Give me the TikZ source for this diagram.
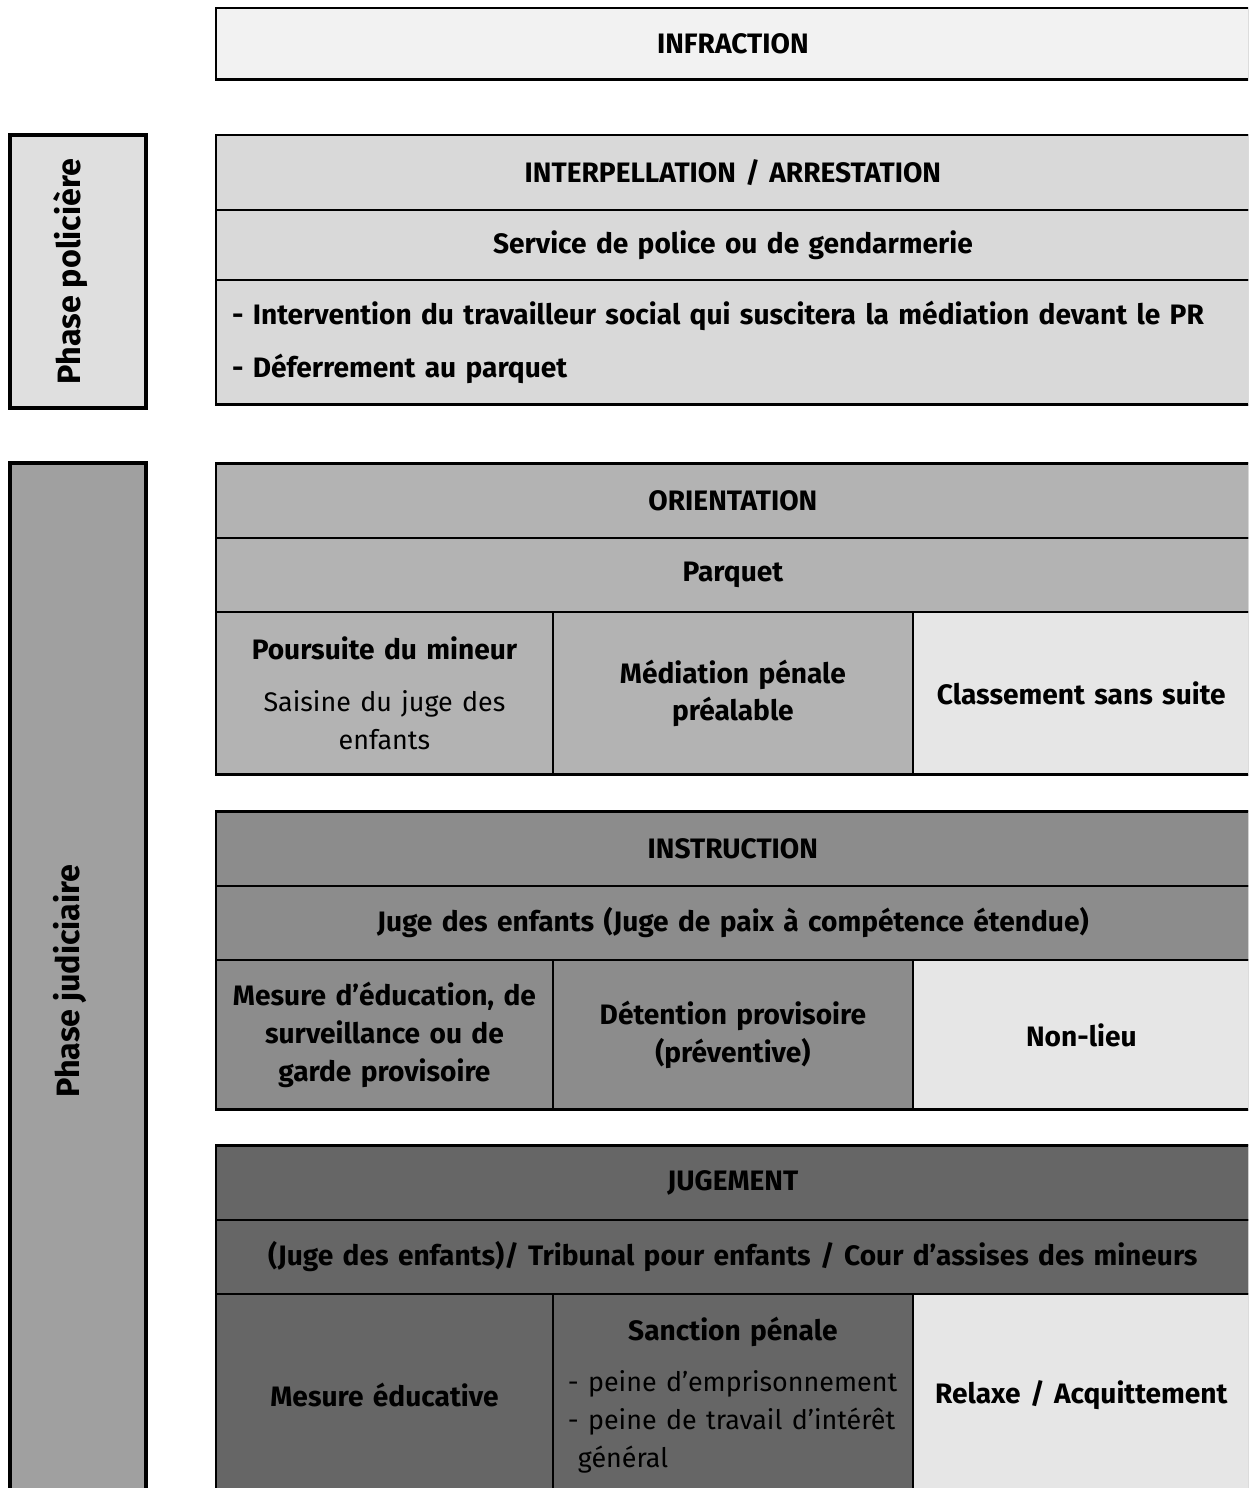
\documentclass[tikz,border=0pt]{standalone}
\usepackage{fontspec}
\setmainfont{Fira Sans}
\usetikzlibrary{positioning}

\definecolor{infra}{HTML}{F2F2F2}
\definecolor{policeside}{HTML}{DFDFDF}
\definecolor{police}{HTML}{D9D9D9}
\definecolor{judside}{HTML}{A0A0A0}
\definecolor{orient}{HTML}{B3B3B3}
\definecolor{instr}{HTML}{8C8C8C}
\definecolor{jug}{HTML}{666666}
\definecolor{light}{HTML}{E6E6E6}

\newcommand{\plain}{\fontsize{15.3}{21.5}\selectfont\mdseries}

\begin{document}
\begin{tikzpicture}[
  x=0.02cm, y=-0.02cm,
  every node/.style={font=\fontsize{16}{21.5}\selectfont\bfseries},
  cell/.style={draw, line width=1.1pt, inner sep=0pt, outer sep=0pt, anchor=north west, align=center},
  wide/.style={minimum width=20.68cm, text width=20cm},
  sidecol/.style={minimum width=6.74cm, text width=6.4cm},
  midcol/.style={minimum width=7.2cm, text width=6.6cm},
  frame/.style={draw, line width=1.7pt},
  phase/.style={draw, line width=2.2pt, rotate=90, inner sep=0pt, align=center,
    font=\fontsize{18.4}{22}\selectfont\bfseries, text depth=13pt}
]
  \useasboundingbox (0,0) rectangle (1248,1488);
  \clip (0,0) rectangle (1248,1488);

  % Infraction
  \node[cell, wide, fill=infra, minimum height=1.44cm, line width=1.7pt] (infraction) at (216,8) {INFRACTION};

  % Phase policiere
  \node[phase, fill=policeside, minimum width=5.46cm, minimum height=2.72cm] (policiere) at (78,271.5) {Phase policière};
  \node[cell, wide, fill=police, minimum height=1.5cm] (interp) at (216,135) {INTERPELLATION / ARRESTATION};
  \node[cell, wide, fill=police, minimum height=1.4cm] (service) at (interp.south west) {Service de police ou de gendarmerie};
  \node[cell, fill=police, minimum width=20.68cm, minimum height=2.5cm, text width=20.04cm,
    inner xsep=0.32cm, align=left] (suite) at (service.south west)
    {- Intervention du travailleur social qui suscitera la médiation devant le PR\\[9pt]- Déferrement au parquet};
  \draw[frame] (interp.north west) rectangle (suite.south east);

  % Phase judiciaire
  \node[phase, fill=judside, minimum width=20.72cm, minimum height=2.72cm] (judiciaire) at (78,981) {Phase judiciaire};

  % Orientation
  \node[cell, wide, fill=orient, minimum height=1.5cm] (orient) at (216,463) {ORIENTATION};
  \node[cell, wide, fill=orient, minimum height=1.48cm] (parquet) at (orient.south west) {Parquet};
  \node[cell, sidecol, fill=orient, minimum height=3.26cm] (poursuite) at (parquet.south west)
    {Poursuite du mineur\\[8pt]{\plain Saisine du juge des\\enfants}};
  \node[cell, midcol, fill=orient, minimum height=3.26cm] (mediation) at (poursuite.north east) {Médiation pénale\\préalable};
  \node[cell, sidecol, fill=light, minimum height=3.26cm] (classement) at (mediation.north east) {Classement sans suite};
  \draw[frame] (orient.north west) rectangle (classement.south east);

  % Instruction
  \node[cell, wide, fill=instr, minimum height=1.5cm] (instruction) at (216,811) {INSTRUCTION};
  \node[cell, wide, fill=instr, minimum height=1.48cm] (jugeenf) at (instruction.south west) {Juge des enfants (Juge de paix à compétence étendue)};
  \node[cell, sidecol, fill=instr, minimum height=3cm] (mesure) at (jugeenf.south west)
    {Mesure d’éducation, de\\surveillance ou de\\garde provisoire};
  \node[cell, midcol, fill=instr, minimum height=3cm] (detention) at (mesure.north east) {Détention provisoire\\(préventive)};
  \node[cell, sidecol, fill=light, minimum height=3cm] (nonlieu) at (detention.north east) {Non-lieu};
  \draw[frame] (instruction.north west) rectangle (nonlieu.south east);

  % Jugement
  \node[cell, wide, fill=jug, minimum height=1.5cm] (jugement) at (216,1145) {JUGEMENT};
  \node[cell, wide, fill=jug, minimum height=1.48cm] (tribunal) at (jugement.south west) {(Juge des enfants)/ Tribunal pour enfants / Cour d’assises des mineurs};
  \node[cell, sidecol, fill=jug, minimum height=4.04cm] (educative) at (tribunal.south west) {Mesure éducative};
  \node[cell, midcol, fill=jug, minimum height=4.04cm, align=left] (sanction) at (educative.north east)
    {\makebox[\linewidth]{Sanction pénale}\\[8pt]{\plain - peine d’emprisonnement\\- peine de travail d’intérêt\\\hspace*{0.2cm}général}};
  \node[cell, sidecol, fill=light, minimum height=4.04cm] (relaxe) at (sanction.north east) {Relaxe / Acquittement};
  \draw[frame] (jugement.north west) rectangle (relaxe.south east);
\end{tikzpicture}
\end{document}
